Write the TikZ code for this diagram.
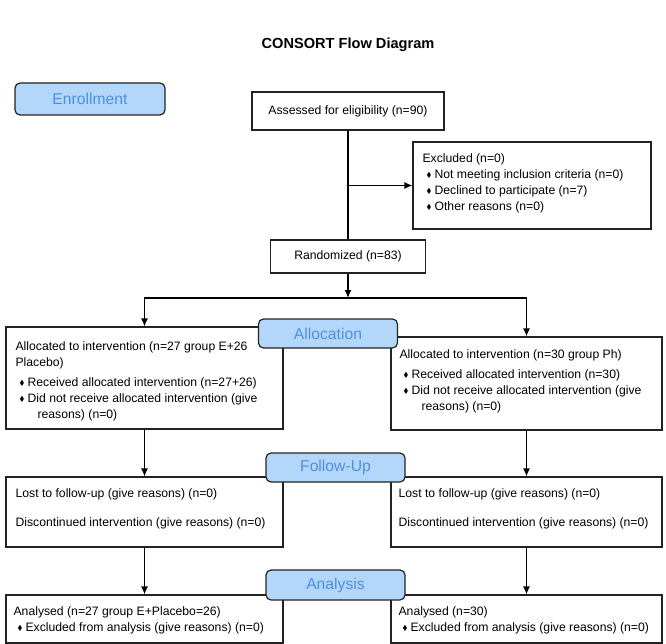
\documentclass[tikz,border=0pt]{standalone}
\usepackage{amssymb}
\usepackage{graphicx}
\usepackage{fontspec}
\setmainfont{Liberation Sans}
\usetikzlibrary{positioning, arrows.meta}

\definecolor{stagefill}{HTML}{B3D7FA}
\definecolor{stagetext}{HTML}{4F8FDF}
\definecolor{edge}{HTML}{222222}

\newcommand{\bul}{\raisebox{1.2pt}{\scalebox{.6}{$\blacklozenge$}}}
\newcommand{\itm}{\hspace*{4pt}\makebox[8pt][l]{\bul}}
\newcommand{\cont}{\hspace*{22pt}}

\tikzset{
  box/.style = {draw = edge, line width = 1.2pt, inner sep = 0pt, font = \fontsize{12.2}{16}\selectfont},
  txt/.style = {anchor = north west, align = left, inner sep = 0pt, font = \fontsize{12.2}{16}\selectfont},
  stage/.style = {draw = edge, line width = 1.2pt, rounded corners = 5pt, fill = stagefill, text = stagetext, inner sep = 0pt, minimum width = 139pt, minimum height = 29pt, font = \fontsize{15.7}{18}\selectfont},
  arr/.style = {draw = black, line width = 1.3pt, -{Latex[length = 8pt, width = 7pt]}}
}

\begin{document}
\begin{tikzpicture}[x = 1pt, y = -1pt]
\useasboundingbox (0,0) rectangle (666,644);

\node[font = \fontsize{14.6}{17}\selectfont\bfseries] (title) at (348,45) {CONSORT Flow Diagram};

\node[box, minimum width = 192pt, minimum height = 38pt] (assess) at (348,111) {Assessed for eligibility (n=90)};
\node[box, minimum width = 238pt, minimum height = 87pt] (excl) at (532,185.5) {};
\node[box, minimum width = 155pt, minimum height = 33pt] (rand) at (348,256.5) {Randomized (n=83)};

\node[box, minimum width = 277pt, minimum height = 102pt] (alloc1) at (144.5,378) {};
\node[box, minimum width = 271pt, minimum height = 93pt] (alloc2) at (526.5,383.5) {};
\node[box, minimum width = 277pt, minimum height = 70pt] (fu1) at (144.5,512) {};
\node[box, minimum width = 271pt, minimum height = 70pt] (fu2) at (526.5,512) {};
\node[box, minimum width = 277pt, minimum height = 48pt] (an1) at (144.5,619) {};
\node[box, minimum width = 271pt, minimum height = 48pt] (an2) at (526.5,619) {};

\node[txt] (exclt) at ([xshift = 10pt, yshift = -12pt]excl.north west) {Excluded (n=0)\\
\itm Not meeting inclusion criteria (n=0)\\
\itm Declined to participate (n=7)\\
\itm Other reasons (n=0)};
\node[txt] (alloc1t) at ([xshift = 10pt, yshift = -15pt]alloc1.north west) {Allocated to intervention (n=27 group E+26\\
Placebo)\\[4pt]
\itm Received allocated intervention (n=27+26)\\
\itm Did not receive allocated intervention (give\\
\cont reasons) (n=0)};
\node[txt] (alloc2t) at ([xshift = 9pt, yshift = -13.5pt]alloc2.north west) {Allocated to intervention (n=30 group Ph)\\[4pt]
\itm Received allocated intervention (n=30)\\
\itm Did not receive allocated intervention (give\\
\cont reasons) (n=0)};
\node[txt] (fu1t) at ([xshift = 10pt, yshift = -12.5pt]fu1.north west) {Lost to follow-up (give reasons) (n=0)\\[13pt]
Discontinued intervention (give reasons) (n=0)};
\node[txt] (fu2t) at ([xshift = 8pt, yshift = -12.5pt]fu2.north west) {Lost to follow-up (give reasons) (n=0)\\[13pt]
Discontinued intervention (give reasons) (n=0)};
\node[txt] (an1t) at ([xshift = 8pt, yshift = -12.5pt]an1.north west) {Analysed (n=27 group E+Placebo=26)\\
\itm Excluded from analysis (give reasons) (n=0)};
\node[txt] (an2t) at ([xshift = 8pt, yshift = -12.5pt]an2.north west) {Analysed (n=30)\\
\itm Excluded from analysis (give reasons) (n=0)};

\coordinate (split) at (348,298);

\draw[line width = 1.3pt] (assess) -- (rand);
\draw[arr] (assess.south |- excl.west) -- (excl.west);
\draw[arr] (rand) -- (split);
\draw[arr] (split) -| (alloc1);
\draw[arr] (split) -| (alloc2);
\draw[arr] (alloc1) -- (fu1);
\draw[arr] (alloc2) -- (fu2);
\draw[arr] (fu1) -- (an1);
\draw[arr] (fu2) -- (an2);

\node[stage, minimum width = 150pt, minimum height = 32pt] (enroll) at (90,99) {Enrollment};
\node[stage] (allocation) at (328,333.5) {Allocation};
\node[stage] (followup) at (335.5,467.5) {Follow-Up};
\node[stage, minimum height = 30pt] (analysis) at (335.5,585) {Analysis};
\end{tikzpicture}
\end{document}
